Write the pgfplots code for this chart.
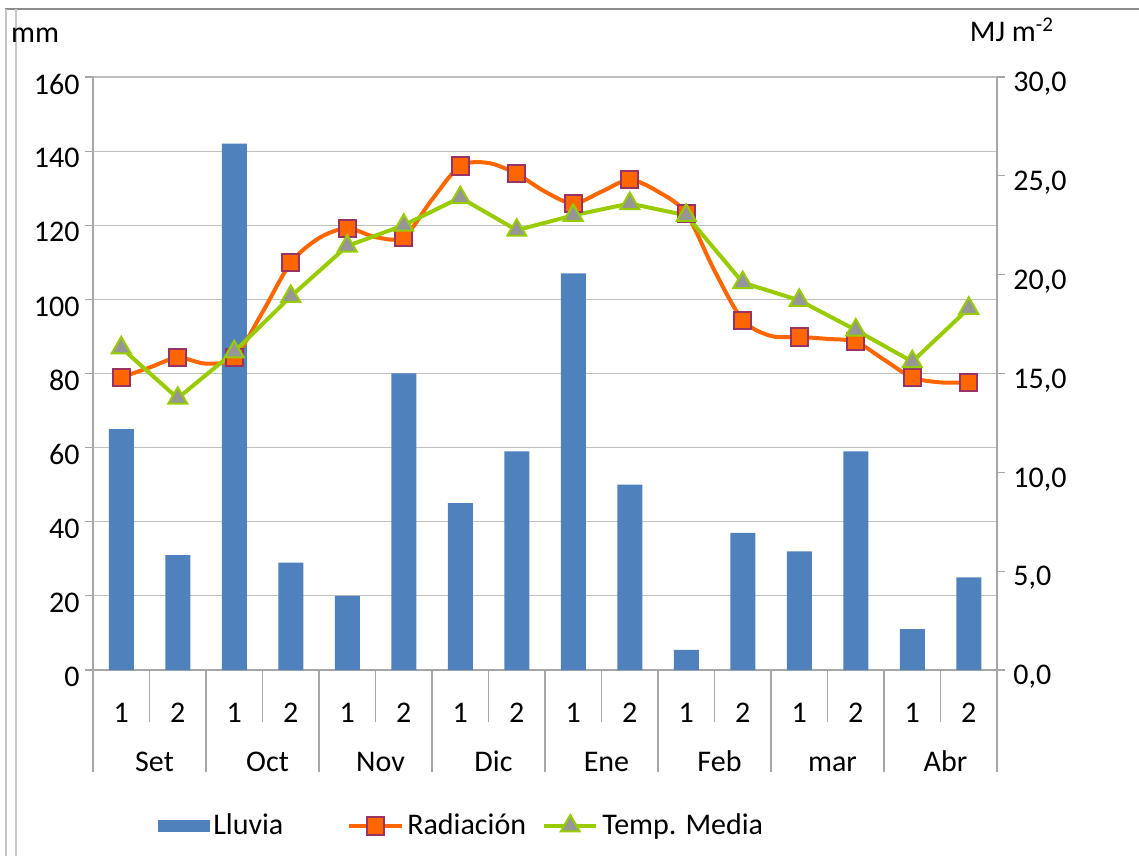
\documentclass[border=0pt]{standalone}
\usepackage{pgfplots}
\pgfplotsset{compat=1.18}
\usepackage{pgfplotstable}
\usepackage{fontspec}
\setmainfont{Carlito}
\definecolor{barblue}{HTML}{4F81BD}
\definecolor{radorange}{HTML}{FF6600}
\definecolor{radedge}{HTML}{993366}
\definecolor{tempgreen}{HTML}{99CC00}
\definecolor{tempfill}{HTML}{969696}
\definecolor{gridgray}{HTML}{BFBFBF}
\definecolor{axgray}{HTML}{A6A6A6}

\pgfplotsset{
  linelegend/.style={legend image code/.code={\draw[mark repeat=2,mark phase=2,##1] plot coordinates {(0pt,0pt) (13pt,0pt) (26pt,0pt)};}},
  barlegend/.style={legend image code/.code={\fill[barblue] (0pt,-2.75pt) rectangle (25.5pt,2.75pt);}},
}

\pgfplotstableread{
x y
0 65
1 31
2 142
3 29
4 20
5 80
6 45
7 59
8 107
9 50
10 5.4
11 37
12 32
13 59
14 11
15 25
}\lluvia

\pgfplotstableread{
x y
0 14.8
0.5 15.3
1 15.8
1.5 15.5
2 15.8
2.5 18.1
3 20.6
3.5 21.85
4 22.35
4.5 21.9
5 21.9
5.5 23.8
6 25.5
6.5 25.65
7 25.1
7.5 24.2
8 23.6
8.5 24.2
9 24.8
9.5 24.2
10 23.1
10.5 20.2
11 17.7
11.5 16.9
12 16.85
12.5 16.75
13 16.6
13.5 15.7
14 14.8
14.5 14.55
15 14.55
}\radiacion

\pgfplotstableread{
x y
0 16.3
1 13.75
2 16.1
3 18.9
4 21.45
5 22.5
6 23.9
7 22.25
8 23.0
9 23.6
10 23.0
11 19.6
12 18.7
13 17.2
14 15.6
15 18.3
}\temp

\begin{document}
\fontsize{15}{18}\selectfont
\begin{tikzpicture}
\useasboundingbox (-46.5pt,-93pt) rectangle (523pt,335pt);
\draw[gray!90, line width=0.6pt] (-44pt,330.5pt) -- (523pt,330.5pt);
\draw[gray!45, line width=0.9pt] (-43.5pt,330.5pt) -- (-43.5pt,-93pt);
\draw[gray!45, line width=0.9pt] (-38.5pt,330.5pt) -- (-38.5pt,-93pt);
\node at (-29pt,317.5pt) {mm};
\node at (459.5pt,320pt) {MJ m\textsuperscript{-2}};

\begin{axis}[
  at={(0pt,0pt)}, anchor=south west,
  scale only axis, width=452pt, height=296.5pt,
  xmin=-0.5, xmax=15.5, ymin=0, ymax=160,
  axis y line*=left, axis x line*=bottom,
  axis line style={axgray, line width=0.6pt, -},
  ybar, bar width=12.5pt,
  xtick={0,...,15},
  xticklabels={1,2,1,2,1,2,1,2,1,2,1,2,1,2,1,2},
  x tick style={draw=none},
  xticklabel style={anchor=base, yshift=-22pt},
  ytick={0,20,...,160},
  ymajorgrids, grid style={gridgray, line width=0.6pt},
  tick align=outside, y tick style={axgray, line width=0.6pt}, major tick length=4pt,
  yticklabel style={yshift=-3.5pt, xshift=2.5pt},
  /pgf/number format/assume math mode=true,
  clip=false,
]
\addplot[fill=barblue, draw=none] table[x=x,y=y] {\lluvia};
\pgfplotsinvokeforeach{0,...,7}{
  \draw[axgray, line width=0.6pt] (axis cs:{2*#1+0.5},0) -- ++(0pt,-26pt);
}
\pgfplotsinvokeforeach{0,...,8}{
  \draw[axgray, line width=0.6pt] (axis cs:{2*#1-0.5},0) -- ++(0pt,-51pt);
}
\node[anchor=base, xshift=2.5pt, yshift=-50.5pt] at (axis cs:0.5,0) {Set};
\node[anchor=base, xshift=2.5pt, yshift=-50.5pt] at (axis cs:2.5,0) {Oct};
\node[anchor=base, xshift=2.5pt, yshift=-50.5pt] at (axis cs:4.5,0) {Nov};
\node[anchor=base, xshift=2.5pt, yshift=-50.5pt] at (axis cs:6.5,0) {Dic};
\node[anchor=base, xshift=2.5pt, yshift=-50.5pt] at (axis cs:8.5,0) {Ene};
\node[anchor=base, xshift=2.5pt, yshift=-50.5pt] at (axis cs:10.5,0) {Feb};
\node[anchor=base, xshift=2.5pt, yshift=-50.5pt] at (axis cs:12.5,0) {mar};
\node[anchor=base, xshift=2.5pt, yshift=-50.5pt] at (axis cs:14.5,0) {Abr};
\end{axis}

\begin{axis}[
  at={(0pt,0pt)}, anchor=south west,
  scale only axis, width=452pt, height=296.5pt,
  xmin=-0.5, xmax=15.5, ymin=0, ymax=30,
  axis y line*=right, axis x line=none,
  axis line style={axgray, line width=0.6pt, -},
  xtick=\empty,
  ytick={0,5,...,30},
  tick align=outside, y tick style={axgray, line width=0.6pt}, major tick length=4pt,
  yticklabel style={yshift=-3.5pt, xshift=-1pt, /pgf/number format/.cd, fixed, fixed zerofill, precision=1, use comma},
  /pgf/number format/assume math mode=true,
  clip=false,
  legend columns=3,
  legend style={draw=none, fill=none, at={(0.408,-0.263)}, anchor=center,
    /tikz/every odd column/.append style={column sep=0.5pt},
    nodes={inner xsep=1.5pt},
    font=\fontsize{15}{18}\selectfont},
  legend cell align=left,
]
\addlegendimage{barlegend}
\addlegendentry{\makebox[65.5pt][l]{Lluvia}}
\addplot[radorange, line width=2pt, smooth, mark=square*, mark repeat=2,
  mark size=4.3pt, mark options={fill=radorange, draw=radedge, line width=1pt, solid},
  linelegend]
  table[x=x,y=y] {\radiacion};
\addlegendentry{\makebox[66pt][l]{Radiación}}
\addplot[tempgreen, line width=2pt, mark=triangle*,
  mark size=5.5pt, mark options={fill=tempfill, draw=tempgreen, line width=1pt, solid},
  linelegend]
  table[x=x,y=y] {\temp};
\addlegendentry{Temp. Media}
\end{axis}
\end{tikzpicture}
\end{document}
